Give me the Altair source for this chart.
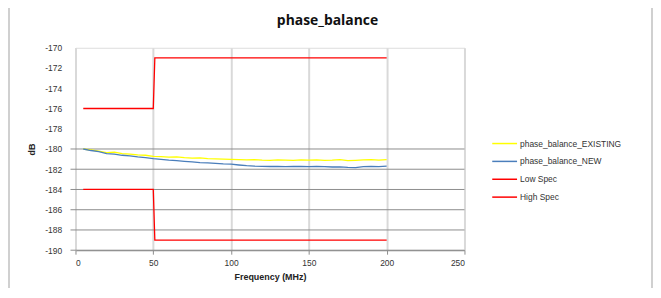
import altair as alt
import pandas as pd

# ---- data ----
freq = [5, 10, 15, 20, 25, 30, 35, 40, 45, 50, 55, 60, 65, 70, 75, 80, 85, 90, 95, 100,
        105, 110, 115, 120, 125, 130, 135, 140, 145, 150, 155, 160, 165, 170, 175, 180,
        185, 190, 195, 200]
existing = [-180.00, -180.10, -180.20, -180.35, -180.30, -180.45, -180.50, -180.58, -180.62, -180.72,
            -180.76, -180.80, -180.78, -180.86, -180.90, -180.88, -180.95, -180.97, -181.00, -181.02,
            -181.05, -181.08, -181.06, -181.10, -181.12, -181.08, -181.10, -181.12, -181.08, -181.10,
            -181.07, -181.12, -181.10, -181.06, -181.15, -181.12, -181.08, -181.06, -181.10, -181.05]
new = [-180.00, -180.15, -180.25, -180.45, -180.50, -180.62, -180.68, -180.78, -180.85, -180.95,
       -181.02, -181.10, -181.15, -181.22, -181.28, -181.35, -181.38, -181.42, -181.48, -181.50,
       -181.58, -181.65, -181.70, -181.72, -181.73, -181.72, -181.74, -181.73, -181.72, -181.75,
       -181.72, -181.74, -181.78, -181.76, -181.82, -181.85, -181.75, -181.72, -181.74, -181.70]
low_spec_x = [5, 50, 51, 200]
low_spec_y = [-176, -176, -171, -171]
high_spec_x = [5, 50, 51, 200]
high_spec_y = [-184, -184, -189, -189]
series_names = ["phase_balance_EXISTING", "phase_balance_NEW", "Low Spec", "High Spec"]
series_colors = ["#ffff00", "#4a7ebb", "#ff0000", "#ff0000"]
y_ticks = [-170, -172, -174, -176, -178, -180, -182, -184, -186, -188, -190]
grid_y = [-180, -182, -184, -186, -188, -190]
x_ticks = [0, 50, 100, 150, 200, 250]
chart_title = "phase_balance"

rows = []
for f, v in zip(freq, existing):
    rows.append({"f": f, "v": v, "s": series_names[0]})
for f, v in zip(freq, new):
    rows.append({"f": f, "v": v, "s": series_names[1]})
for f, v in zip(low_spec_x, low_spec_y):
    rows.append({"f": f, "v": v, "s": series_names[2]})
for f, v in zip(high_spec_x, high_spec_y):
    rows.append({"f": f, "v": v, "s": series_names[3]})
df = pd.DataFrame(rows)

W, H = 392, 204
FONT = "Liberation Sans"

xscale = alt.Scale(domain=[0, 250], nice=False)
yscale = alt.Scale(domain=[-190, -170], nice=False)

y_axis = alt.Axis(values=y_ticks, title="dB", grid=False, ticks=False,
                  domainColor="#d9d9d9", domainWidth=2,
                  labelOverlap=False,
                  labelExpr="'-' + abs(datum.value)",
                  labelFontSize=8.5, labelColor="#333333", labelFont=FONT,
                  labelPadding=14,
                  titleFont=FONT, titleFontSize=9, titleFontWeight="bold",
                  titleColor="#222222", titlePadding=8)

lines = alt.Chart(df).mark_line(strokeWidth=1.3).encode(
    x=alt.X("f:Q", scale=xscale,
            axis=alt.Axis(values=x_ticks, title="Frequency (MHz)", grid=True,
                          gridColor="#d9d9d9", gridWidth=2,
                          domainColor="#8c8c8c", tickColor="#8c8c8c", tickSize=4,
                          labelFontSize=8.5, labelColor="#333333", labelFont=FONT,
                          labelPadding=4,
                          titleFont=FONT, titleFontSize=9, titleFontWeight="bold",
                          titleColor="#222222", titlePadding=6)),
    y=alt.Y("v:Q", scale=yscale, axis=y_axis),
    color=alt.Color("s:N", scale=alt.Scale(domain=series_names, range=series_colors),
                    legend=alt.Legend(title=None, orient="none", legendX=419, legendY=83,
                                      symbolType="stroke", symbolSize=625,
                                      symbolStrokeWidth=1.5,
                                      labelFont=FONT, labelFontSize=8.5,
                                      labelColor="#333333", rowPadding=0,
                                      labelOffset=2)),
    detail="s:N",
    order=alt.Order("f:Q"),
)

hgrid = alt.Chart(pd.DataFrame({"v": grid_y})).mark_rule(
    color="#8c8c8c", strokeWidth=1
).encode(
    y=alt.Y("v:Q", scale=yscale, axis=y_axis),
    x=alt.value(-5),
    x2=alt.value(W),
)

title_text = alt.Chart(pd.DataFrame({"t": [chart_title]})).mark_text(
    font="Open Sans", fontSize=14, fontWeight="bold", color="#111111",
    align="center", baseline="middle", clip=False
).encode(text="t:N", x=alt.value(254), y=alt.value(-27))

frame_left = alt.Chart(pd.DataFrame({"a": [0]})).mark_rule(
    color="#d0d0d0", strokeWidth=2, clip=False
).encode(x=alt.value(-67), y=alt.value(-40), y2=alt.value(H + 40))

frame_right = alt.Chart(pd.DataFrame({"a": [0]})).mark_rule(
    color="#d0d0d0", strokeWidth=2, clip=False
).encode(x=alt.value(581), y=alt.value(-40), y2=alt.value(H + 40))

chart = alt.layer(hgrid, lines, title_text, frame_left, frame_right).properties(
    width=W, height=H,
    autosize=alt.AutoSizeParams(type="none"),
    padding={"left": 68, "top": 39, "right": 190, "bottom": 37},
).configure_view(strokeWidth=0).configure(background="white")

chart.save("out.html", embed_options={"renderer": "svg", "actions": False})
